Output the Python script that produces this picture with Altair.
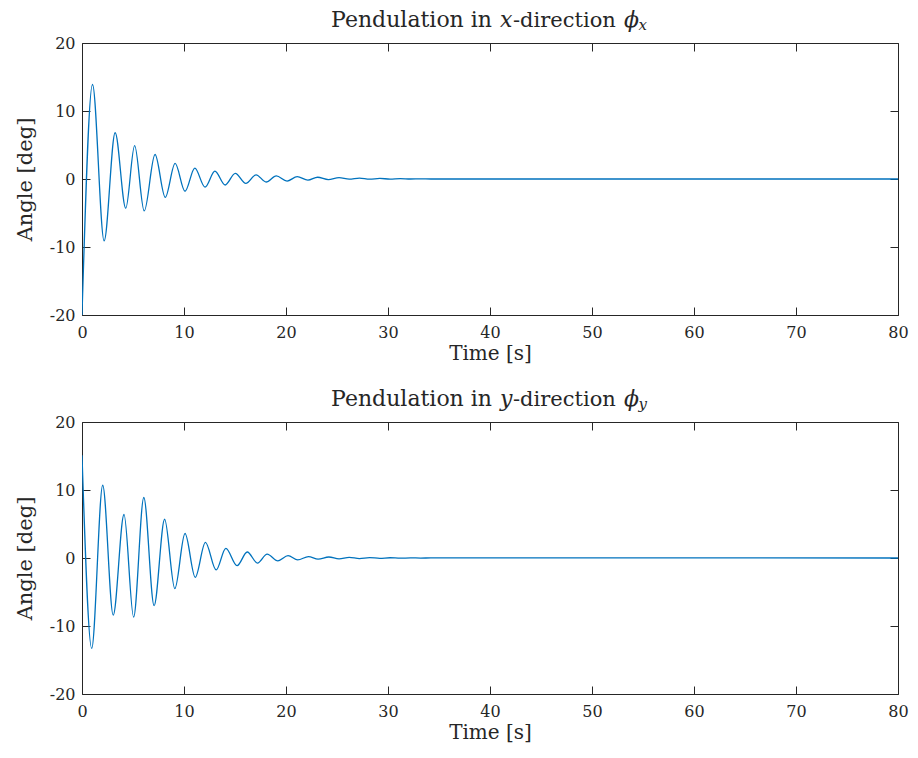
import altair as alt
import pandas as pd

# ---- data ----
t_x = [0, 1.03, 2.17, 3.25, 4.29, 5.16, 6.1, 7.16, 8.16, 9.13, 10.1, 11.06, 12.06,
       13.03, 14.03, 15.03, 16.06, 17.07, 18.05, 19.05, 20.1, 21.1, 22.15, 23.1,
       24.15, 25.2, 26.2, 27.2, 28.2, 29.2, 30.2, 31.2, 32.2, 33.2, 34.2, 80]
phi_x = [-20, 13.9, -9.1, 6.8, -4.3, 4.9, -4.7, 3.6, -2.7, 2.3, -1.8, 1.6, -1.2,
         1.15, -0.88, 0.83, -0.64, 0.62, -0.44, 0.46, -0.3, 0.34, -0.17, 0.26,
         -0.08, 0.2, -0.03, 0.13, -0.02, 0.08, -0.01, 0.05, 0.0, 0.03, 0.0, 0.0]

t_y = [0, 0.95, 2.03, 3.06, 4.12, 5.06, 6.06, 7.07, 8.1, 9.1, 10.1, 11.1, 12.1,
       13.15, 14.1, 15.2, 16.2, 17.2, 18.15, 19.2, 20.2, 21.15, 22.2, 23.15,
       24.2, 25.2, 26.2, 27.2, 28.2, 29.2, 30.2, 31.2, 32.2, 33.2, 34.2, 80]
phi_y = [15.1, -13.3, 10.7, -8.4, 6.4, -8.7, 8.9, -7.0, 5.7, -4.5, 3.6, -2.84, 2.3,
         -1.76, 1.42, -1.13, 0.88, -0.74, 0.58, -0.42, 0.34, -0.28, 0.2, -0.18,
         0.15, -0.13, 0.1, -0.08, 0.06, -0.05, 0.04, -0.03, 0.02, -0.01, 0.01, 0.0]

x_ticks = [0, 10, 20, 30, 40, 50, 60, 70, 80]
y_ticks = [-20, -10, 0, 10, 20]

# ---- styling ----
W, H = 816, 272
FONT = "DejaVu Serif"
AX = "#262626"
LINE = "#0072BD"
HYPHEN = "replace(datum.label, '\u2212', '-')"


def panel(t, v, letter):
    df = pd.DataFrame({"t": t, "v": v})
    xs = alt.Scale(domain=[0, 80], nice=False, zero=False)
    ys = alt.Scale(domain=[-20, 20], nice=False)
    base = alt.Chart(df)

    main = base.mark_line(interpolate="monotone", color=LINE, strokeWidth=1.3, clip=True).encode(
        x=alt.X("t:Q", scale=xs, axis=alt.Axis(
            values=x_ticks, title="Time [s]", ticks=False, domain=False, grid=False,
            labelFont=FONT, labelFontSize=16, labelColor=AX, labelPadding=9,
            labelFlush=False, labelOverlap=False,
            titleFont=FONT, titleFontSize=20, titleFontWeight="normal", titleColor=AX,
            titlePadding=3)),
        y=alt.Y("v:Q", scale=ys, axis=alt.Axis(
            values=y_ticks, title="Angle [deg]", ticks=False, domain=False, grid=False,
            labelFont=FONT, labelFontSize=16, labelColor=AX, labelPadding=7,
            labelFlush=False, labelOverlap=False, labelExpr=HYPHEN,
            titleFont=FONT, titleFontSize=21, titleFontWeight="normal", titleColor=AX,
            titlePadding=14)),
    )

    ticks_a = base.mark_line(opacity=0).encode(
        x=alt.X("t:Q", scale=xs, axis=alt.Axis(
            orient="top", offset=-H, values=x_ticks, labels=False, domain=False,
            grid=False, tickSize=8, tickColor=AX, title=None)),
        y=alt.Y("v:Q", scale=ys, axis=alt.Axis(
            orient="right", offset=-W, values=y_ticks, labels=False, domain=False,
            grid=False, tickSize=8, tickColor=AX, title=None)),
    )
    ticks_b = base.mark_line(opacity=0).encode(
        x=alt.X("t:Q", scale=xs, axis=alt.Axis(
            orient="bottom", offset=-H, values=x_ticks, labels=False, domain=False,
            grid=False, tickSize=8, tickColor=AX, title=None)),
        y=alt.Y("v:Q", scale=ys, axis=alt.Axis(
            orient="left", offset=-W, values=y_ticks, labels=False, domain=False,
            grid=False, tickSize=8, tickColor=AX, title=None)),
    )

    one = alt.Data(values=[{}])
    ty = -16

    def txt(s, x, y, size=22, italic=False, align="left"):
        return alt.Chart(one).mark_text(
            text=s, align=align, baseline="alphabetic", font=FONT, fontSize=size,
            fontStyle="italic" if italic else "normal", color=AX,
        ).encode(x=alt.value(x), y=alt.value(y))

    title_parts = [
        txt("Pendulation in", 410, ty, align="right"),
        txt(letter, 418, ty, italic=True),
        txt("-direction", 431, ty, size=21),
        txt("\u03d5", 542, ty, italic=True),
        txt(letter, 556.5, ty + 3, size=15, italic=True),
    ]

    # invisible layout anchor fixing the outer margin (left/top of the plot area)
    anchor = alt.Chart(one).mark_rule(opacity=0).encode(
        x=alt.value(-73), x2=alt.value(-72), y=alt.value(-34), y2=alt.value(-33))

    return alt.layer(main, ticks_a, ticks_b, *title_parts, anchor).resolve_axis(
        x="independent", y="independent"
    ).properties(width=W, height=H)


top = panel(t_x, phi_x, "x")
bottom = panel(t_y, phi_y, "y")

chart = alt.vconcat(top, bottom, spacing=107, bounds="flush").properties(
    padding=0, background="white", autosize=alt.AutoSizeParams(type="pad")
).configure_view(stroke=AX, strokeWidth=1)

chart.save("out.html", embed_options={"renderer": "svg", "actions": False})
